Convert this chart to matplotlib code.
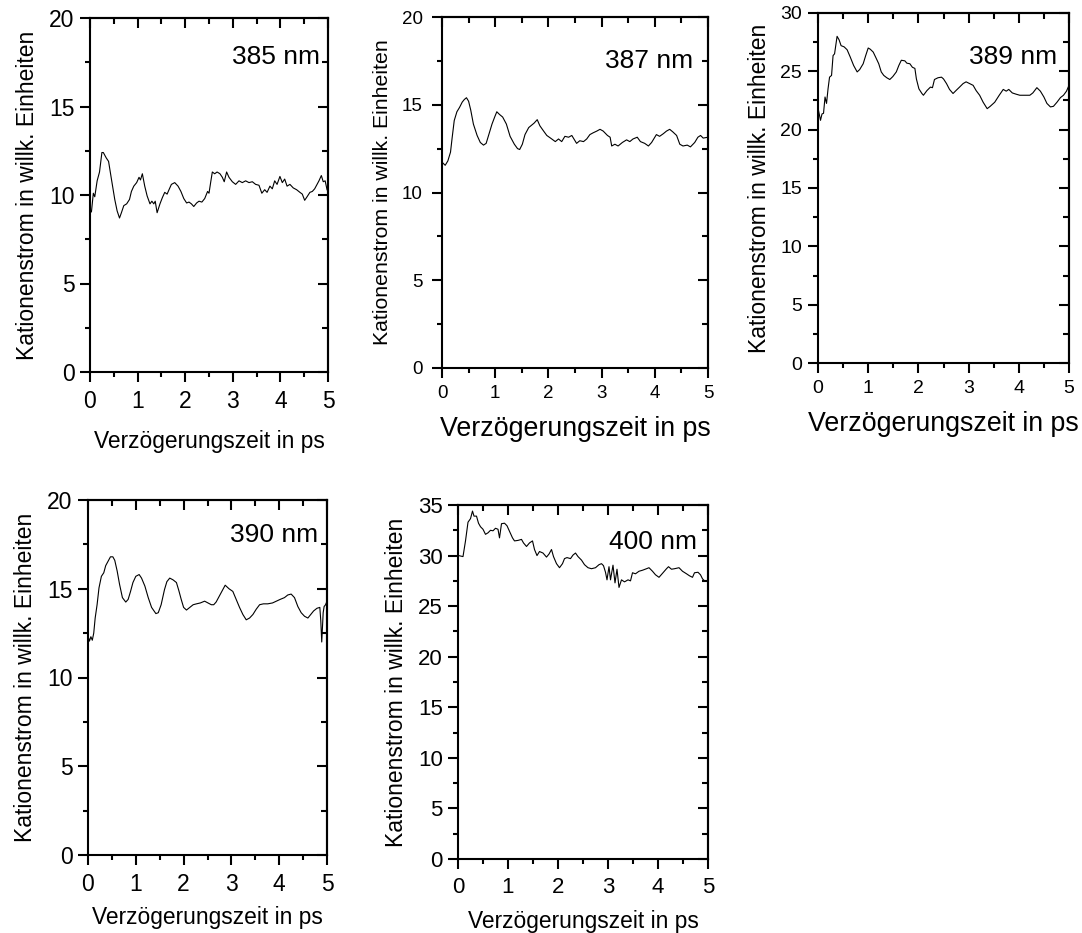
import matplotlib
matplotlib.use("Agg")
import matplotlib.pyplot as plt
from matplotlib.ticker import MultipleLocator

plt.rcParams['font.family'] = ['Liberation Sans', 'DejaVu Sans']

# ---------------- data ----------------
x385 = [0.0, 0.03, 0.07, 0.1, 0.15, 0.2, 0.25, 0.28, 0.34, 0.39, 0.45, 0.52, 0.57, 0.62, 0.66,
        0.71, 0.77, 0.83, 0.87, 0.92, 0.98, 1.03, 1.06, 1.1, 1.15, 1.2, 1.26, 1.3, 1.34, 1.37,
        1.41, 1.47, 1.52, 1.57, 1.62, 1.66, 1.71, 1.78, 1.85, 1.91, 1.97, 2.03, 2.08, 2.13, 2.18,
        2.24, 2.29, 2.35, 2.41, 2.47, 2.5, 2.54, 2.57, 2.62, 2.67, 2.73, 2.78, 2.82, 2.87, 2.92,
        2.99, 3.06, 3.13, 3.2, 3.27, 3.34, 3.41, 3.48, 3.55, 3.61, 3.67, 3.72, 3.78, 3.83, 3.88,
        3.93, 3.99, 4.04, 4.09, 4.14, 4.2, 4.27, 4.34, 4.41, 4.46, 4.51, 4.56, 4.62, 4.67, 4.72,
        4.77, 4.81, 4.86, 4.9, 4.94, 4.98, 5.0]
y385 = [9.2, 9.04, 10.1, 9.9, 10.8, 11.3, 12.4, 12.4, 12.1, 11.9, 10.9, 9.75, 9.1, 8.7, 9.0,
        9.4, 9.5, 9.75, 10.2, 10.5, 10.7, 11.0, 10.85, 11.2, 10.5, 9.95, 9.5, 9.65, 9.5, 9.65,
        9.0, 9.5, 9.85, 10.15, 10.05, 10.3, 10.6, 10.7, 10.5, 10.2, 9.8, 9.55, 9.6, 9.5, 9.35,
        9.55, 9.65, 9.6, 9.8, 10.2, 10.1, 10.8, 11.3, 11.2, 11.3, 11.2, 11.0, 10.75, 11.3, 11.0,
        10.75, 10.6, 10.8, 10.7, 10.8, 10.7, 10.75, 10.6, 10.55, 10.1, 10.3, 10.15, 10.5, 10.35, 10.8,
        10.6, 11.05, 10.7, 10.9, 10.5, 10.6, 10.4, 10.3, 10.15, 10.05, 9.7, 9.9, 10.15, 10.2, 10.35,
        10.6, 10.8, 11.1, 10.75, 10.8, 10.3, 10.2]

x387 = [0.01, 0.06, 0.11, 0.16, 0.19, 0.23, 0.28, 0.33, 0.38, 0.42, 0.46, 0.5, 0.54, 0.59, 0.66,
        0.72, 0.78, 0.83, 0.88, 0.94, 0.99, 1.03, 1.08, 1.14, 1.21, 1.28, 1.36, 1.42, 1.46, 1.51,
        1.56, 1.63, 1.69, 1.73, 1.79, 1.84, 1.91, 1.97, 2.04, 2.13, 2.19, 2.25, 2.31, 2.38, 2.44,
        2.48, 2.53, 2.59, 2.66, 2.72, 2.78, 2.84, 2.91, 2.97, 3.03, 3.11, 3.16, 3.19, 3.25, 3.31,
        3.39, 3.47, 3.53, 3.59, 3.67, 3.73, 3.81, 3.88, 3.94, 4.03, 4.09, 4.16, 4.22, 4.28, 4.34,
        4.41, 4.47, 4.53, 4.61, 4.67, 4.75, 4.81, 4.86, 4.91, 5.0]
y387 = [11.7, 11.55, 11.8, 12.3, 13.1, 14.1, 14.6, 14.85, 15.15, 15.3, 15.4, 15.2, 14.7, 13.9, 13.25,
        12.85, 12.7, 12.8, 13.3, 13.9, 14.3, 14.6, 14.45, 14.3, 13.9, 13.2, 12.75, 12.5, 12.45, 12.75,
        13.3, 13.7, 13.85, 13.95, 14.15, 13.8, 13.5, 13.25, 13.1, 12.9, 13.05, 12.9, 13.2, 13.15, 13.25,
        13.05, 12.8, 12.95, 12.9, 13.05, 13.3, 13.4, 13.5, 13.6, 13.5, 13.25, 13.15, 12.65, 12.75, 12.65,
        12.85, 13.0, 12.9, 13.05, 13.15, 12.9, 12.8, 12.65, 12.85, 13.3, 13.2, 13.35, 13.5, 13.6, 13.45,
        13.25, 12.75, 12.65, 12.7, 12.6, 12.85, 13.15, 13.25, 13.1, 13.15]

x389 = [0.01, 0.05, 0.08, 0.11, 0.14, 0.17, 0.2, 0.23, 0.27, 0.3, 0.33, 0.38, 0.42, 0.46, 0.52,
        0.58, 0.64, 0.71, 0.78, 0.83, 0.9, 0.95, 1.0, 1.04, 1.1, 1.15, 1.21, 1.26, 1.31, 1.37,
        1.43, 1.49, 1.56, 1.61, 1.66, 1.73, 1.77, 1.83, 1.88, 1.93, 1.96, 2.01, 2.07, 2.1, 2.17,
        2.24, 2.28, 2.32, 2.39, 2.46, 2.5, 2.56, 2.62, 2.69, 2.76, 2.82, 2.89, 2.95, 3.02, 3.09,
        3.15, 3.22, 3.29, 3.37, 3.43, 3.52, 3.61, 3.69, 3.75, 3.8, 3.87, 3.94, 4.02, 4.12, 4.22,
        4.28, 4.36, 4.43, 4.5, 4.56, 4.63, 4.69, 4.76, 4.83, 4.89, 4.95, 5.0]
y389 = [21.65, 20.8, 21.35, 21.4, 22.8, 22.25, 23.5, 24.5, 24.65, 26.35, 26.5, 28.0, 27.7, 27.2, 27.1,
        26.85, 26.25, 25.5, 24.95, 25.15, 25.65, 26.35, 27.0, 26.9, 26.65, 26.2, 25.65, 24.95, 24.65, 24.45,
        24.3, 24.55, 24.95, 25.5, 25.95, 25.9, 25.7, 25.65, 25.35, 25.25, 24.35, 23.5, 23.1, 22.95, 23.35,
        23.65, 23.6, 24.3, 24.45, 24.5, 24.35, 23.95, 23.45, 23.1, 23.4, 23.65, 23.95, 24.1, 23.95, 23.8,
        23.35, 22.95, 22.35, 21.8, 22.0, 22.35, 22.95, 23.45, 23.3, 23.45, 23.15, 23.05, 22.95, 22.95, 22.95,
        23.15, 23.6, 23.3, 22.8, 22.25, 21.95, 22.0, 22.35, 22.75, 22.95, 23.3, 23.8]

x390 = [0.01, 0.03, 0.06, 0.09, 0.12, 0.15, 0.19, 0.23, 0.28, 0.33, 0.37, 0.42, 0.47, 0.52, 0.56,
        0.61, 0.66, 0.72, 0.79, 0.84, 0.89, 0.94, 1.0, 1.07, 1.12, 1.19, 1.26, 1.33, 1.42, 1.47,
        1.53, 1.6, 1.65, 1.71, 1.78, 1.85, 1.9, 1.95, 2.0, 2.06, 2.13, 2.2, 2.27, 2.35, 2.44,
        2.51, 2.58, 2.63, 2.68, 2.74, 2.81, 2.87, 2.95, 3.03, 3.1, 3.17, 3.24, 3.31, 3.38, 3.45,
        3.52, 3.59, 3.67, 3.76, 3.86, 3.94, 4.02, 4.11, 4.18, 4.25, 4.32, 4.39, 4.46, 4.53, 4.6,
        4.66, 4.72, 4.79, 4.85, 4.87, 4.89, 4.92, 4.94, 4.97, 5.0]
y390 = [12.25, 12.05, 12.3, 12.1, 12.5, 13.35, 14.1, 15.05, 15.7, 15.9, 16.3, 16.55, 16.8, 16.8, 16.6,
        16.0, 15.25, 14.5, 14.25, 14.4, 14.85, 15.35, 15.7, 15.8, 15.6, 15.15, 14.5, 13.95, 13.6, 13.65,
        14.1, 14.95, 15.4, 15.6, 15.5, 15.35, 14.9, 14.4, 13.95, 13.8, 13.95, 14.1, 14.15, 14.2, 14.3,
        14.2, 14.1, 14.1, 14.25, 14.55, 14.9, 15.2, 15.0, 14.85, 14.4, 13.95, 13.55, 13.25, 13.35, 13.55,
        13.85, 14.1, 14.15, 14.15, 14.2, 14.3, 14.4, 14.5, 14.65, 14.7, 14.5, 14.0, 13.65, 13.45, 13.35,
        13.55, 13.75, 13.9, 13.95, 13.2, 12.0, 13.65, 14.0, 14.1, 14.3]

x400 = [0.01, 0.1, 0.15, 0.2, 0.25, 0.29, 0.32, 0.37, 0.41, 0.45, 0.5, 0.55, 0.6, 0.65, 0.7,
        0.75, 0.8, 0.83, 0.87, 0.93, 0.98, 1.03, 1.09, 1.13, 1.2, 1.27, 1.31, 1.37, 1.43, 1.49,
        1.53, 1.58, 1.63, 1.7, 1.77, 1.82, 1.87, 1.91, 1.97, 2.03, 2.09, 2.13, 2.18, 2.25, 2.3,
        2.35, 2.4, 2.47, 2.53, 2.6, 2.67, 2.75, 2.82, 2.87, 2.91, 2.95, 2.98, 3.02, 3.05, 3.1,
        3.14, 3.18, 3.22, 3.27, 3.33, 3.4, 3.45, 3.49, 3.55, 3.62, 3.69, 3.77, 3.82, 3.89, 3.95,
        4.02, 4.1, 4.17, 4.21, 4.27, 4.33, 4.42, 4.49, 4.57, 4.63, 4.69, 4.73, 4.8, 4.85, 4.89,
        4.93, 5.0]
y400 = [30.0, 29.9, 31.45, 33.3, 33.65, 34.4, 33.9, 33.9, 33.2, 32.85, 32.6, 32.1, 32.25, 32.5, 32.45,
        32.7, 32.6, 31.75, 33.15, 33.2, 32.95, 32.4, 31.75, 31.45, 31.5, 31.6, 31.25, 30.9, 31.25, 31.45,
        30.6, 30.0, 30.4, 30.25, 29.85, 30.15, 30.6, 29.9, 29.2, 28.8, 29.2, 29.7, 29.8, 29.7, 30.05,
        30.25, 29.9, 29.55, 29.1, 28.8, 28.7, 28.8, 29.1, 29.2, 29.0, 28.35, 27.6, 28.9, 27.6, 29.05,
        27.3, 28.65, 26.85, 27.6, 27.4, 27.6, 27.5, 28.3, 28.2, 28.45, 28.55, 28.7, 28.8, 28.45, 28.1,
        27.85, 28.3, 28.7, 28.9, 28.65, 28.7, 28.8, 28.45, 28.2, 28.0, 27.85, 28.3, 28.35, 28.1, 27.7,
        27.5, 27.5]

labels = ["385 nm", "387 nm", "389 nm", "390 nm", "400 nm"]
ylims = [20, 20, 30, 20, 35]
x_ticks = [0, 1, 2, 3, 4, 5]

# ---------------- figure ----------------
W, H = 1082, 933
fig = plt.figure(figsize=(W / 100, H / 100), dpi=100)


def rect(l, r, t, b):
    return [l / W, 1 - b / H, (r - l) / W, (b - t) / H]


panels = [
    dict(x=x385, y=y385, rect=rect(90, 328, 18, 372), tick_fs=16.5, xl_fs=16.4, yl_fs=16.5,
         ann=(4.83, 17.8), ylabpad=7.5, xlabpad=12, xpad=6, ypad=4),
    dict(x=x387, y=y387, rect=rect(442, 708, 17, 368), tick_fs=13.5, xl_fs=19.3, yl_fs=15.3,
         ann=(4.72, 17.5), ylabpad=7, xlabpad=10, xpad=5, ypad=7),
    dict(x=x389, y=y389, rect=rect(818, 1069, 13, 363), tick_fs=14, xl_fs=19.3, yl_fs=16.5,
         ann=(4.76, 26.2), ylabpad=6.5, xlabpad=10, xpad=5, ypad=4.5),
    dict(x=x390, y=y390, rect=rect(88, 327, 500, 855), tick_fs=16.5, xl_fs=16.4, yl_fs=16.5,
         ann=(4.81, 18.0), ylabpad=7.5, xlabpad=7, xpad=6, ypad=4),
    dict(x=x400, y=y400, rect=rect(458, 708, 505, 859), tick_fs=16, xl_fs=16.4, yl_fs=16.5,
         ann=(4.78, 31.3), ylabpad=7, xlabpad=8.5, xpad=6, ypad=4),
]

for i, p in enumerate(panels):
    ax = fig.add_axes(p['rect'])
    ax.plot(p['x'], p['y'], color='black', lw=0.8)
    ax.set_xlim(0, 5)
    ax.set_ylim(0, ylims[i])
    ax.set_xticks(x_ticks)
    ax.set_yticks(list(range(0, ylims[i] + 1, 5)))
    ax.xaxis.set_minor_locator(MultipleLocator(0.5))
    ax.yaxis.set_minor_locator(MultipleLocator(2.5))
    for s in ax.spines.values():
        s.set_linewidth(1.5)
    ax.tick_params(which='major', direction='out', length=7, width=1.5,
                   labelsize=p['tick_fs'], top=False, right=False)
    ax.tick_params(axis='x', which='major', pad=p['xpad'])
    ax.tick_params(axis='y', which='major', pad=p['ypad'])
    ax.tick_params(which='minor', direction='out', length=3.5, width=1.5, top=False, right=False)

    sx = ax.secondary_xaxis('top')
    sx.set_xticks(x_ticks)
    sx.xaxis.set_minor_locator(MultipleLocator(0.5))
    sx.tick_params(which='major', direction='in', length=7, width=1.5, labeltop=False)
    sx.tick_params(which='minor', direction='in', length=4, width=1.5)
    sx.spines['top'].set_linewidth(1.5)

    sy = ax.secondary_yaxis('right')
    sy.set_yticks(list(range(0, ylims[i] + 1, 5)))
    sy.yaxis.set_minor_locator(MultipleLocator(2.5))
    sy.tick_params(which='major', direction='in', length=7, width=1.5, labelright=False)
    sy.tick_params(which='minor', direction='in', length=4, width=1.5)
    sy.spines['right'].set_linewidth(1.5)

    ax.set_xlabel("Verzögerungszeit in ps", fontsize=p['xl_fs'], labelpad=p['xlabpad'])
    ax.set_ylabel("Kationenstrom in willk. Einheiten", fontsize=p['yl_fs'], labelpad=p['ylabpad'])
    ax.text(p['ann'][0], p['ann'][1], labels[i], fontsize=19, ha='right', va='center')

fig.savefig("out.png", dpi=100)
